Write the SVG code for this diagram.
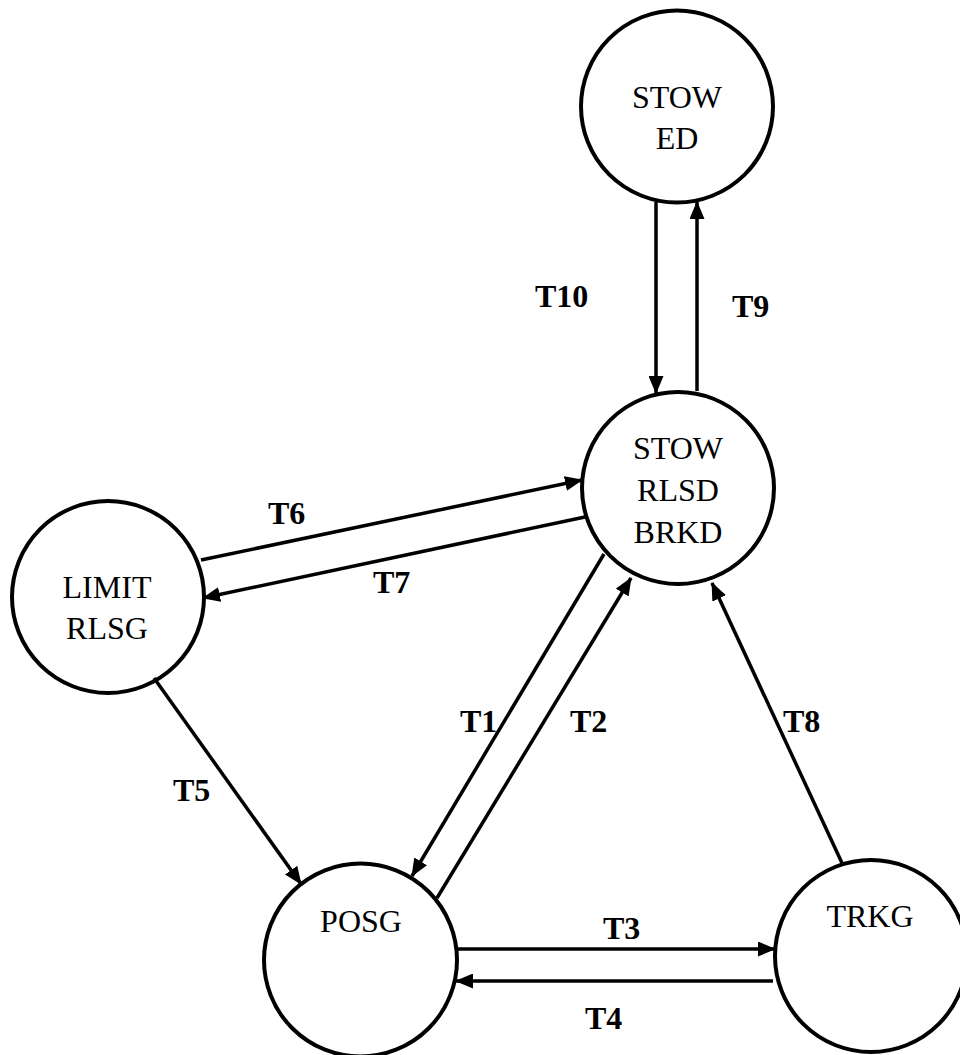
<svg xmlns="http://www.w3.org/2000/svg" width="960" height="1055" viewBox="0 0 960 1055">
<defs>
<style>
.node circle{fill:#fff;stroke:#000;stroke-width:4}
.node text{font-family:"Liberation Serif","Times New Roman",serif;font-size:32px;fill:#000;text-anchor:middle}
.edge line{stroke:#000;stroke-width:3.5}
.lbl{font-family:"Liberation Serif","Times New Roman",serif;font-size:32px;font-weight:bold;fill:#000}
</style>
<marker id="arr" markerUnits="userSpaceOnUse" markerWidth="18" markerHeight="15" refX="17" refY="7.5" orient="auto">
<path d="M0,0 L18,7.5 L0,15 z" fill="#000"/>
</marker>
</defs>
<rect width="960" height="1055" fill="#fff"/>
<g id="stowed" class="node">
<circle cx="677" cy="106.5" r="96"/>
<text x="677" y="108">STOW</text>
<text x="677" y="149">ED</text>
</g>
<g id="stow-rlsd-brkd" class="node">
<circle cx="678" cy="488" r="96"/>
<text x="678" y="459">STOW</text>
<text x="678" y="501">RLSD</text>
<text x="678" y="543">BRKD</text>
</g>
<g id="limit-rlsg" class="node">
<circle cx="108" cy="597" r="96"/>
<text x="107" y="598">LIMIT</text>
<text x="107" y="639">RLSG</text>
</g>
<g id="posg" class="node">
<circle cx="360.5" cy="960" r="96.5"/>
<text x="361" y="932">POSG</text>
</g>
<g id="trkg" class="node">
<circle cx="871" cy="956" r="96"/>
<text x="870" y="927">TRKG</text>
</g>
<g id="connectors" class="edge">
<line x1="656" y1="202" x2="656" y2="393" marker-end="url(#arr)"/>
<line x1="697" y1="391" x2="697" y2="202" marker-end="url(#arr)"/>
<line x1="201" y1="560" x2="582" y2="480" marker-end="url(#arr)"/>
<line x1="585" y1="517" x2="203" y2="598" marker-end="url(#arr)"/>
<line x1="604" y1="554" x2="412" y2="876" marker-end="url(#arr)"/>
<line x1="437" y1="898" x2="631" y2="578" marker-end="url(#arr)"/>
<line x1="154" y1="678" x2="301" y2="884" marker-end="url(#arr)"/>
<line x1="842" y1="863" x2="712" y2="583" marker-end="url(#arr)"/>
<line x1="456" y1="949" x2="775" y2="949" marker-end="url(#arr)"/>
<line x1="773" y1="981" x2="456" y2="981" marker-end="url(#arr)"/>
</g>
<g id="labels">
<text class="lbl" x="535" y="307">T10</text>
<text class="lbl" x="732" y="317">T9</text>
<text class="lbl" x="268" y="524">T6</text>
<text class="lbl" x="373" y="593">T7</text>
<text class="lbl" x="460" y="732">T1</text>
<text class="lbl" x="570" y="732">T2</text>
<text class="lbl" x="783" y="732">T8</text>
<text class="lbl" x="173" y="801">T5</text>
<text class="lbl" x="603" y="939">T3</text>
<text class="lbl" x="585" y="1029">T4</text>
</g>
</svg>
